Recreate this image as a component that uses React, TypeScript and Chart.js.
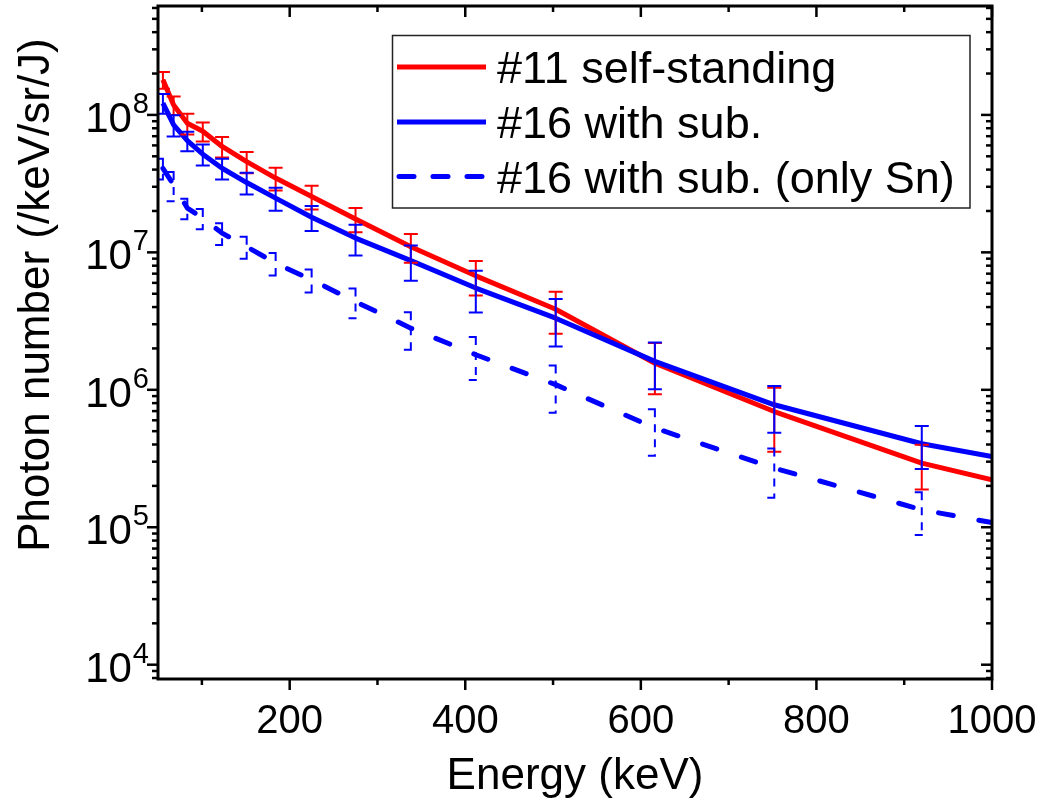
import React, { useEffect, useRef } from 'react';
import { Chart, registerables } from 'chart.js';

Chart.register(...registerables);

// ---- data ----
const energy = [55.6, 67.8, 83.4, 101, 123, 151, 184, 225, 275, 338, 412, 503, 616, 752, 920, 1000];

const selfStanding = [1.8e8, 1.18e8, 8.7e7, 7.6e7, 5.9e7, 4.57e7, 3.47e7, 2.55e7, 1.75e7, 1.1e7, 6.75e6, 3.86e6, 1.56e6, 6.95e5, 2.93e5, 2.21e5];
const selfStandingErr = [2.5e7, 1.8e7, 1.5e7, 1.2e7, 1.0e7, 8.0e6, 6.5e6, 5.0e6, 3.5e6, 2.6e6, 1.9e6, 1.3e6, 6.3e5, 3.4e5, 1.05e5, null];

const withSub = [1.22e8, 8.46e7, 6.5e7, 5.18e7, 4.09e7, 3.22e7, 2.48e7, 1.8e7, 1.27e7, 8.71e6, 5.5e6, 3.32e6, 1.61e6, 7.78e5, 4.05e5, 3.27e5];
const withSubErr = [2.0e7, 1.5e7, 1.05e7, 9.0e6, 7.0e6, 5.8e6, 4.7e6, 3.7e6, 3.2e6, 2.5e6, 1.85e6, 1.25e6, 6.0e5, 2.9e5, 1.4e5, null];

const onlySn = [4.09e7, 3.1e7, 2.1e7, 1.77e7, 1.38e7, 1.1e7, 8.34e6, 6.31e6, 4.38e6, 2.81e6, 1.8e6, 1.09e6, 5.27e5, 2.69e5, 1.34e5, 1.08e5];
const onlySnErr = [7.0e6, 7.5e6, 3.6e6, 3.0e6, 2.5e6, 2.0e6, 1.55e6, 1.2e6, 1.07e6, 8.5e5, 6.2e5, 4.1e5, 1.95e5, 1.05e5, 4.6e4, null];

const seriesLabels = ['#11 self-standing', '#16 with sub.', '#16 with sub. (only Sn)'];
const xTickValues = [200, 400, 600, 800, 1000];
const xMinorTickValues = [100, 300, 500, 700, 900];
const yTickExponents = [4, 5, 6, 7, 8];
const xTitle = 'Energy (keV)';
const yTitle = 'Photon number (/keV/sr/J)';

// ---- styling ----
const FONT = '"Liberation Sans", Arial, Helvetica, sans-serif';
const RED = '#ff0000';
const BLUE = '#0000ff';
const seriesValues = [selfStanding, withSub, onlySn];
const seriesErrors = [selfStandingErr, withSubErr, onlySnErr];
const seriesColors = [RED, BLUE, BLUE];
const seriesDash: number[][] = [[], [], [15, 26]];
const errorDash: number[][] = [[], [], [8, 7]];

const errorBarPlugin = {
  id: 'errorBars',
  afterDatasetsDraw(chart: any) {
    const { ctx, chartArea: a, scales } = chart;
    const xs = scales.x;
    const ys = scales.y;
    ctx.save();
    ctx.beginPath();
    ctx.rect(a.left, a.top, a.right - a.left, a.bottom - a.top);
    ctx.clip();
    seriesErrors.forEach((errs, i) => {
      const vals = seriesValues[i];
      ctx.strokeStyle = seriesColors[i];
      ctx.lineWidth = 2;
      ctx.lineCap = 'butt';
      ctx.setLineDash(errorDash[i]);
      errs.forEach((e, j) => {
        if (e == null) return;
        const px = xs.getPixelForValue(energy[j]);
        const top = ys.getPixelForValue(vals[j] + e);
        const bot = ys.getPixelForValue(vals[j] - e);
        const hw = 7;
        ctx.beginPath();
        ctx.moveTo(px - hw, top);
        ctx.lineTo(px + hw, top);
        ctx.moveTo(px, top);
        ctx.lineTo(px, bot);
        ctx.moveTo(px - hw, bot);
        ctx.lineTo(px + hw, bot);
        ctx.stroke();
      });
    });
    ctx.restore();
  },
};

const framePlugin = {
  id: 'frame',
  afterDraw(chart: any) {
    const { ctx, chartArea: a, scales } = chart;
    const xs = scales.x;
    const ys = scales.y;
    ctx.save();
    ctx.setLineDash([]);
    ctx.strokeStyle = '#000';
    ctx.lineCap = 'butt';

    // ticks
    ctx.lineWidth = 2.5;
    const line = (x1: number, y1: number, x2: number, y2: number) => {
      ctx.beginPath();
      ctx.moveTo(x1, y1);
      ctx.lineTo(x2, y2);
      ctx.stroke();
    };
    const MAJ = 11;
    const MIN = 6;
    xTickValues.forEach((v) => {
      const px = xs.getPixelForValue(v);
      line(px, a.bottom, px, a.bottom + MAJ);
      line(px, a.top, px, a.top + MAJ);
    });
    xMinorTickValues.forEach((v) => {
      const px = xs.getPixelForValue(v);
      line(px, a.bottom, px, a.bottom + MIN);
      line(px, a.top, px, a.top + MIN);
    });
    for (let k = 3; k <= 8; k++) {
      for (let m = 1; m <= 9; m++) {
        const v = m * Math.pow(10, k);
        if (v < ys.min || v > ys.max) continue;
        const py = ys.getPixelForValue(v);
        const len = m === 1 ? MAJ : MIN;
        line(a.left - len, py, a.left, py);
        line(a.right - len, py, a.right, py);
      }
    }

    // frame
    ctx.lineWidth = 3;
    ctx.strokeRect(a.left, a.top, a.right - a.left, a.bottom - a.top);

    // y tick labels 10^n
    ctx.fillStyle = '#000';
    ctx.textBaseline = 'alphabetic';
    ctx.textAlign = 'left';
    const baseFont = `42px ${FONT}`;
    const supFont = `29px ${FONT}`;
    yTickExponents.forEach((n) => {
      const py = ys.getPixelForValue(Math.pow(10, n));
      ctx.font = supFont;
      const sup = String(n);
      const wSup = ctx.measureText(sup).width;
      ctx.font = baseFont;
      const wBase = ctx.measureText('10').width;
      const right = a.left - 10;
      const x0 = right - wSup - wBase;
      ctx.fillText('10', x0, py + 17);
      ctx.font = supFont;
      ctx.fillText(sup, x0 + wBase + 1, py - 2);
    });

    // y axis title
    ctx.save();
    ctx.translate(37, 295);
    ctx.rotate(-Math.PI / 2);
    ctx.textAlign = 'center';
    ctx.textBaseline = 'middle';
    ctx.font = `44px ${FONT}`;
    ctx.fillText(yTitle, 0, 0);
    ctx.restore();

    // legend
    const lx = 392.5;
    const ly = 35.5;
    const lw = 577.5;
    const lh = 172.5;
    ctx.fillStyle = '#fff';
    ctx.fillRect(lx, ly, lw, lh);
    ctx.lineWidth = 1.5;
    ctx.strokeStyle = '#222';
    ctx.strokeRect(lx, ly, lw, lh);
    const rowY = [67, 122, 176.5];
    seriesLabels.forEach((label, i) => {
      ctx.strokeStyle = seriesColors[i];
      ctx.lineWidth = 5;
      ctx.lineCap = i === 2 ? 'round' : 'butt';
      ctx.setLineDash(i === 2 ? [15, 19] : []);
      line(i === 2 ? 399 : 397, rowY[i], i === 2 ? 484 : 486, rowY[i]);
      ctx.setLineDash([]);
      ctx.fillStyle = '#000';
      ctx.textAlign = 'left';
      ctx.textBaseline = 'alphabetic';
      ctx.font = `45px ${FONT}`;
      ctx.fillText(label, 497, rowY[i] + 16);
    });

    ctx.restore();
  },
};

export default function App() {
  const ref = useRef<HTMLCanvasElement>(null);
  useEffect(() => {
    const canvas = ref.current;
    if (!canvas) return;
    const datasets = seriesLabels.map((label, i) => ({
      label,
      data: energy.map((x, j) => ({ x, y: seriesValues[i][j] })),
      borderColor: seriesColors[i],
      backgroundColor: seriesColors[i],
      borderWidth: 5,
      borderDash: seriesDash[i],
      borderCapStyle: i === 2 ? 'round' : 'butt',
      borderJoinStyle: 'round',
      pointRadius: 0,
      tension: 0,
      fill: false,
      order: 3 - i,
    }));
    const chart = new Chart(canvas, {
      type: 'line',
      data: { datasets } as any,
      options: {
        animation: false,
        responsive: false,
        maintainAspectRatio: false,
        layout: { padding: { top: 6, right: 61, left: 0, bottom: 0 } },
        plugins: {
          legend: { display: false },
          tooltip: { enabled: false },
        },
        scales: {
          x: {
            type: 'linear',
            min: 50,
            max: 1000,
            afterBuildTicks: (scale: any) => {
              scale.ticks = xTickValues.map((v) => ({ value: v }));
            },
            afterFit: (scale: any) => {
              scale.height = 129;
              scale.paddingLeft = 0;
              scale.paddingRight = 0;
            },
            grid: { display: false, drawTicks: false },
            border: { display: false },
            ticks: {
              color: '#000',
              font: { family: FONT, size: 40 },
              padding: 19,
              maxRotation: 0,
              autoSkip: false,
              callback: (v: any) => String(v),
            },
            title: {
              display: true,
              text: xTitle,
              color: '#000',
              font: { family: FONT, size: 44 },
              padding: { top: 0, bottom: 5 },
            },
          },
          y: {
            type: 'logarithmic',
            min: 7870,
            max: 6.2e8,
            afterFit: (scale: any) => {
              scale.width = 158;
            },
            grid: { display: false, drawTicks: false },
            border: { display: false },
            ticks: { display: false },
            title: { display: false, text: yTitle },
          },
        },
      } as any,
      plugins: [errorBarPlugin, framePlugin],
    });
    return () => chart.destroy();
  }, []);
  return (
    <div style={{ position: 'absolute', left: 0, top: 0, width: 1053, height: 808, background: '#fff' }}>
      <canvas ref={ref} width={1053} height={808} style={{ display: 'block', width: 1053, height: 808 }} />
    </div>
  );
}
